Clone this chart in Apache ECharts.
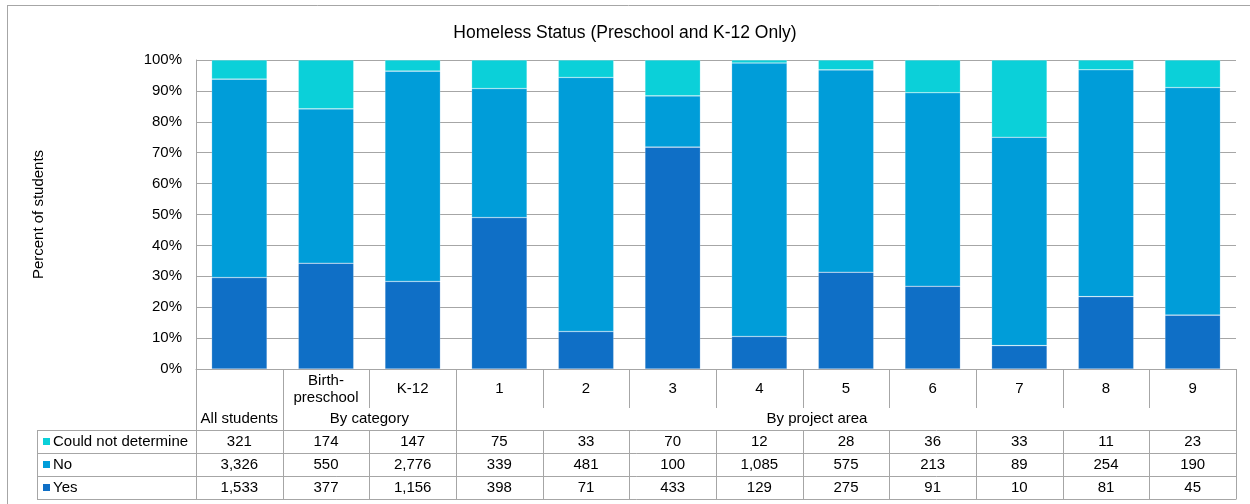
<!DOCTYPE html>
<html>
<head>
<meta charset="utf-8">
<title>Homeless Status (Preschool and K-12 Only)</title>
<script src="https://cdn.jsdelivr.net/npm/echarts@6/dist/echarts.min.js"></script>
<style>
  html, body { margin: 0; padding: 0; background: #fff; }
  #chart { width: 1250px; height: 504px; }
</style>
</head>
<body>
<div id="chart"></div>
<script>
// Student counts per column; bar heights are each count's share of the column total.
const categories = ['All students', 'Birth-preschool', 'K-12', '1', '2', '3', '4', '5', '6', '7', '8', '9'];
// labels shown in the first table row (the "All students" column is named by its group row)
const columnLabels = ['', 'Birth-\npreschool', 'K-12', '1', '2', '3', '4', '5', '6', '7', '8', '9'];
const couldNotDetermine = [321, 174, 147, 75, 33, 70, 12, 28, 36, 33, 11, 23];
const no = [3326, 550, 2776, 339, 481, 100, 1085, 575, 213, 89, 254, 190];
const yes = [1533, 377, 1156, 398, 71, 433, 129, 275, 91, 10, 81, 45];
const groups = [
  { name: 'All students', from: 0, to: 0, dx: 0 },
  { name: 'By category', from: 1, to: 2, dx: 0 },
  { name: 'By project area', from: 3, to: 11, dx: -29 }
];
const yTickValues = [0, 10, 20, 30, 40, 50, 60, 70, 80, 90, 100];

const seriesDefs = [
  { name: 'Yes', counts: yes, color: '#0F6FC6' },
  { name: 'No', counts: no, color: '#009DD9' },
  { name: 'Could not determine', counts: couldNotDetermine, color: '#0BD0D9' }
];
const tableRows = [seriesDefs[2], seriesDefs[1], seriesDefs[0]];

const totals = categories.map((_, i) => yes[i] + no[i] + couldNotDetermine[i]);
const pct = arr => arr.map((v, i) => v / totals[i] * 100);
const fmt = v => v.toLocaleString('en-US');

const FONT = "'Liberation Sans', Arial, sans-serif";
const LINE = '#a6a6a6';
const TEXT = '#000';
const FS = 15;

const PLOT = { left: 196, right: 14, top: 60, bottom: 135 };

const chart = echarts.init(document.getElementById('chart'), null, { renderer: 'canvas' });

chart.setOption({
  animation: false,
  backgroundColor: '#fff',
  title: {
    text: 'Homeless Status (Preschool and K-12 Only)',
    left: 'center',
    top: 19,
    textStyle: { fontFamily: FONT, fontSize: 17.5, fontWeight: 'normal', color: TEXT }
  },
  grid: { left: PLOT.left, right: PLOT.right, top: PLOT.top, bottom: PLOT.bottom, containLabel: false },
  xAxis: {
    type: 'category',
    data: categories,
    axisLine: { show: true, lineStyle: { color: LINE } },
    axisTick: { show: false },
    axisLabel: { show: false },
    splitLine: { show: false }
  },
  yAxis: {
    type: 'value',
    min: 0,
    max: 100,
    interval: 10,
    name: 'Percent of students',
    nameLocation: 'middle',
    nameGap: 150,
    nameRotate: 90,
    nameTextStyle: { fontFamily: FONT, fontSize: FS, color: TEXT },
    axisLine: { show: true, lineStyle: { color: LINE } },
    axisTick: { show: false },
    axisLabel: {
      margin: 14,
      fontFamily: FONT,
      fontSize: FS,
      color: TEXT,
      formatter: v => (yTickValues.includes(v) ? v + '%' : '')
    },
    splitLine: { show: true, lineStyle: { color: LINE, width: 1 } }
  },
  series: seriesDefs.map(s => ({
    name: s.name,
    type: 'bar',
    stack: 'share',
    barCategoryGap: '36%',
    data: pct(s.counts),
    itemStyle: { color: s.color, borderColor: 'rgba(255,255,255,0.35)', borderWidth: 0.6 },
    emphasis: { disabled: true }
  }))
});

// Data table under the plot: column labels, group labels, legend keys and counts.
function buildTable() {
  const grid = chart.getModel().getComponent('grid').coordinateSystem.getRect();
  const x0 = grid.x, x1 = grid.x + grid.width, yAxis = grid.y + grid.height;
  const band = grid.width / categories.length;
  const cx = i => chart.convertToPixel({ xAxisIndex: 0 }, i);
  const edge = i => x0 + band * i;

  const catBottom = yAxis + 39;
  const groupBottom = yAxis + 61;
  const rowH = 23;
  const legendLeft = 37;
  const tableBottom = groupBottom + rowH * tableRows.length;

  const els = [];
  const line = (xa, ya, xb, yb) => els.push({
    type: 'line', silent: true,
    shape: { x1: xa, y1: ya, x2: xb, y2: yb },
    style: { stroke: LINE, lineWidth: 1 }
  });
  const text = (x, y, str, align) => els.push({
    type: 'text', silent: true, x, y,
    style: { text: str, fill: TEXT, font: FS + 'px ' + FONT, align: align || 'center', verticalAlign: 'middle', lineHeight: 17 }
  });

  // outer chart frame
  line(7, 5.5, 1250, 5.5);
  line(7.5, 5, 7.5, 504);

  // column label separators
  for (let i = 0; i <= categories.length; i++) {
    const x = Math.round(edge(i)) + 0.5;
    const isGroupEdge = i === 0 || i === categories.length || groups.some(g => g.from === i);
    line(x, yAxis, x, isGroupEdge ? tableBottom : catBottom);
  }
  columnLabels.forEach((c, i) => { if (c) text(cx(i), yAxis + 20, c); });

  // group labels
  groups.forEach(g => {
    const mid = (edge(g.from) + edge(g.to + 1)) / 2 + g.dx;
    text(mid, yAxis + 50, g.name);
  });

  // value rows
  const legendX = legendLeft + 0.5;
  line(legendX, groupBottom, legendX, tableBottom);
  for (let r = 0; r <= tableRows.length; r++) {
    const y = Math.round(groupBottom + rowH * r) + 0.5;
    line(legendLeft, y, x1 + 0.5, y);
  }
  for (let i = 0; i < categories.length; i++) {
    const x = Math.round(edge(i + 1)) + 0.5;
    line(x, groupBottom, x, tableBottom);
  }
  tableRows.forEach((s, r) => {
    const yc = groupBottom + rowH * r + rowH / 2;
    els.push({
      type: 'rect', silent: true,
      shape: { x: legendLeft + 6, y: yc - 3.5, width: 7, height: 7 },
      style: { fill: s.color }
    });
    text(legendLeft + 16, yc, s.name, 'left');
    s.counts.forEach((v, i) => text(cx(i), yc, fmt(v)));
  });

  chart.setOption({ graphic: { elements: els } });
}

buildTable();
</script>
</body>
</html>
